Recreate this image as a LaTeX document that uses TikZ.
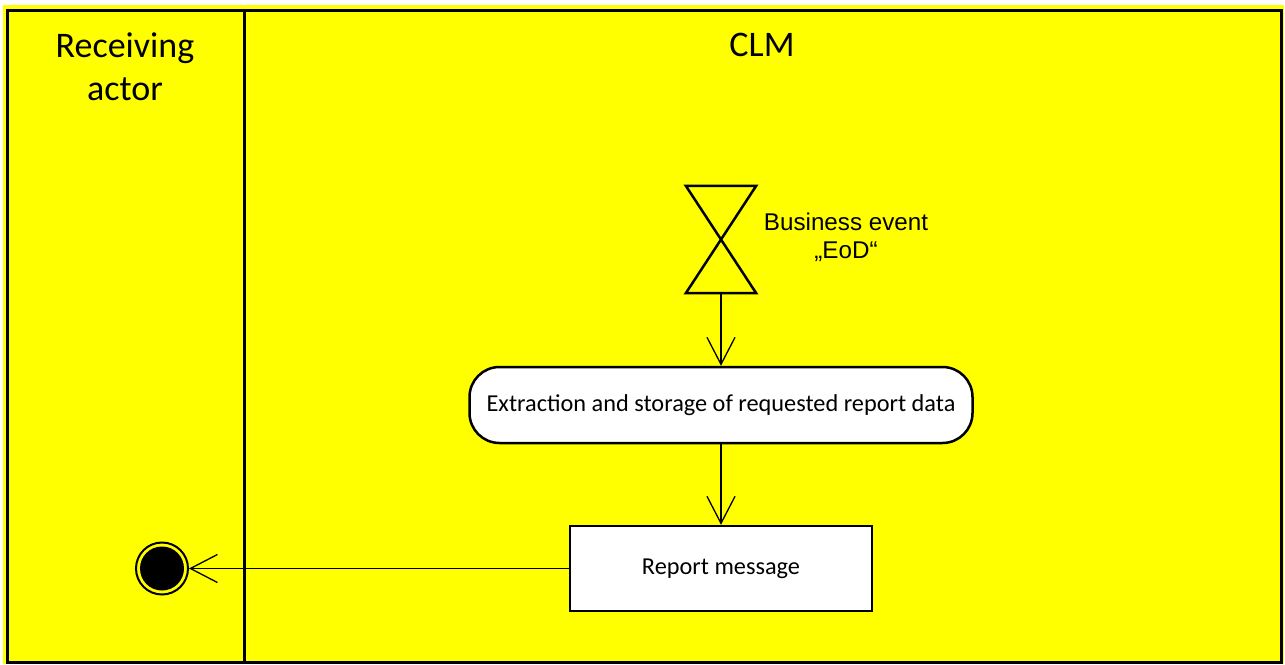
\documentclass[tikz,border=0pt]{standalone}
\usepackage{fontspec}
\setmainfont{Carlito}
\newfontfamily\arialfont{Liberation Sans}
\usetikzlibrary{arrows.meta}
\definecolor{laneyellow}{HTML}{FFFF00}
\tikzset{
  flow/.style={line width=1.3pt, -{Straight Barb[length=27pt,width=28pt,line width=1.3pt]}},
  lanehead/.style={font=\fontsize{36}{43}\selectfont, align=center, inner sep=0pt},
  actbox/.style={draw, fill=white, line width=2.5pt, rounded corners=30pt, minimum width=503pt, minimum height=76pt, font=\fontsize{24.3}{29}\selectfont},
  msgbox/.style={draw, fill=white, line width=2.5pt, minimum width=302pt, minimum height=85pt, font=\fontsize{24.3}{29}\selectfont},
}
\begin{document}
\begin{tikzpicture}[x=1pt,y=-1pt]
\useasboundingbox (0,0) rectangle (1285,664);
\fill[white] (0,0) rectangle (1285,664);
\fill[laneyellow] (3,5) rectangle (1284,664);
\draw[line width=3pt] (7,10) rectangle (1281,662);
\draw[line width=3pt] (244,10) -- (244,662);
\node[lanehead] (hra) at (125,67) {Receiving\\actor};
\node[lanehead] (hclm) at (762,45) {CLM};
% business event
\node[minimum width=70pt, minimum height=107pt, inner sep=0pt] (ev) at (721,239.5) {};
\draw[line width=2.5pt, line join=miter] (ev.north west) -- (ev.north east) -- (ev.south west) -- (ev.south east) -- cycle;
\node[font=\arialfont\fontsize{24.2}{28}\selectfont, align=center, inner sep=0pt] (evlabel) at (846,237) {Business event\\„EoD“};
\node[actbox] (extr) at (721,405) {Extraction and storage of requested report data};
\node[msgbox] (rep) at (721,568.5) {Report message};
\node[circle, draw, line width=2pt, fill=laneyellow, minimum size=52pt, inner sep=0pt] (endo) at (162,568.5) {};
\node[circle, fill=black, minimum size=44pt, inner sep=0pt] (endi) at (162,568.5) {};
\draw[flow] (ev.south) -- (extr.north);
\draw[flow] (extr.south) -- (rep.north);
\draw[flow] (rep.west) -- (endo.east);
\end{tikzpicture}
\end{document}
